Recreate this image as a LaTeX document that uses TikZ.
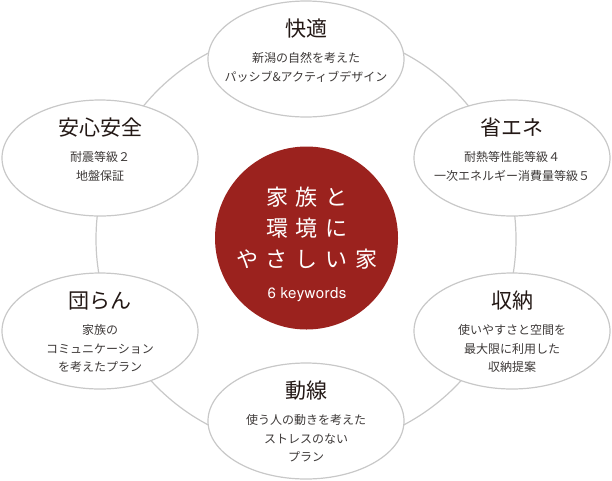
\documentclass[tikz,border=0pt]{standalone}
\usepackage{fontspec}
\setmainfont{Noto Sans CJK JP}
\newfontfamily\heros{TeX Gyre Heros}
\usetikzlibrary{shapes.geometric,calc}
\definecolor{ringgray}{RGB}{200,200,200}
\definecolor{keyred}{RGB}{155,34,30}
\definecolor{titleink}{RGB}{35,24,21}
\definecolor{subink}{RGB}{62,58,57}
\begin{document}
\begin{tikzpicture}[x=1pt,y=-1pt,
  ring/.style={draw=ringgray,line width=1.2pt},
  kw/.style={ellipse,draw=ringgray,line width=1.2pt,fill=white,minimum width=196pt,minimum height=116pt,inner sep=0pt},
  ttl/.style={anchor=base,inner sep=0pt,text=titleink,font=\fontsize{21}{24}\selectfont},
  sub/.style={anchor=base,inner sep=0pt,text=subink,font=\fontsize{12}{14}\selectfont},
  hub/.style={circle,fill=keyred,minimum size=183pt,inner sep=0pt},
  hubtxt/.style={anchor=base,inner sep=0pt,text=white,font=\fontsize{22}{24}\selectfont},
  hubsub/.style={anchor=base,inner sep=0pt,text=white,font=\heros\fontsize{15}{18}\selectfont\addfontfeature{LetterSpace=3}},
]
\useasboundingbox (0,0) rectangle (612,480);
\coordinate (c) at (306,239);
\draw[ring] (c) circle (210pt);

\node[kw] (k1) at (306,59) {};
\node[kw] (k2) at (100,158) {};
\node[kw] (k3) at (512,158) {};
\node[kw] (k4) at (100,331) {};
\node[kw] (k5) at (512,331) {};
\node[kw] (k6) at (306,421) {};

\node[ttl] (t1) at ($(k1)+(0,-23)$) {快適};
\node[sub] (s1a) at ($(k1)+(0,3.6)$) {新潟の自然を考えた};
\node[sub] (s1b) at ($(k1)+(0,22.1)$) {パッシブ\&アクティブデザイン};

\node[ttl] (t2) at ($(k2)+(0,-23)$) {安心安全};
\node[sub] (s2a) at ($(k2)+(0,3.6)$) {耐震等級２};
\node[sub] (s2b) at ($(k2)+(0,22.1)$) {地盤保証};

\node[ttl] (t3) at ($(k3)+(0,-23)$) {省エネ};
\node[sub] (s3a) at ($(k3)+(0,3.6)$) {耐熱等性能等級４};
\node[sub] (s3b) at ($(k3)+(0,22.1)$) {一次エネルギー消費量等級５};

\node[ttl] (t4) at ($(k4)+(0,-23)$) {団らん};
\node[sub] (s4a) at ($(k4)+(0,3.6)$) {家族の};
\node[sub] (s4b) at ($(k4)+(0,22.1)$) {コミュニケーション};
\node[sub] (s4c) at ($(k4)+(0,40.6)$) {を考えたプラン};

\node[ttl] (t5) at ($(k5)+(0,-23)$) {収納};
\node[sub] (s5a) at ($(k5)+(0,3.6)$) {使いやすさと空間を};
\node[sub] (s5b) at ($(k5)+(0,22.1)$) {最大限に利用した};
\node[sub] (s5c) at ($(k5)+(0,40.6)$) {収納提案};

\node[ttl] (t6) at ($(k6)+(0,-23)$) {動線};
\node[sub] (s6a) at ($(k6)+(0,3.6)$) {使う人の動きを考えた};
\node[sub] (s6b) at ($(k6)+(0,22.1)$) {ストレスのない};
\node[sub] (s6c) at ($(k6)+(0,40.6)$) {プラン};

\node[hub] (hub) at (306.5,238) {};
\node[hubtxt] (h1) at (307,205) {家\kern8pt 族\kern8pt と};
\node[hubtxt] (h2) at (307,236) {環\kern8pt 境\kern8pt に};
\node[hubtxt] (h3) at (307,267) {や\kern8pt さ\kern8pt し\kern8pt い\kern8pt 家};
\node[hubsub] (h4) at (307,298) {6 keywords};
\end{tikzpicture}
\end{document}
